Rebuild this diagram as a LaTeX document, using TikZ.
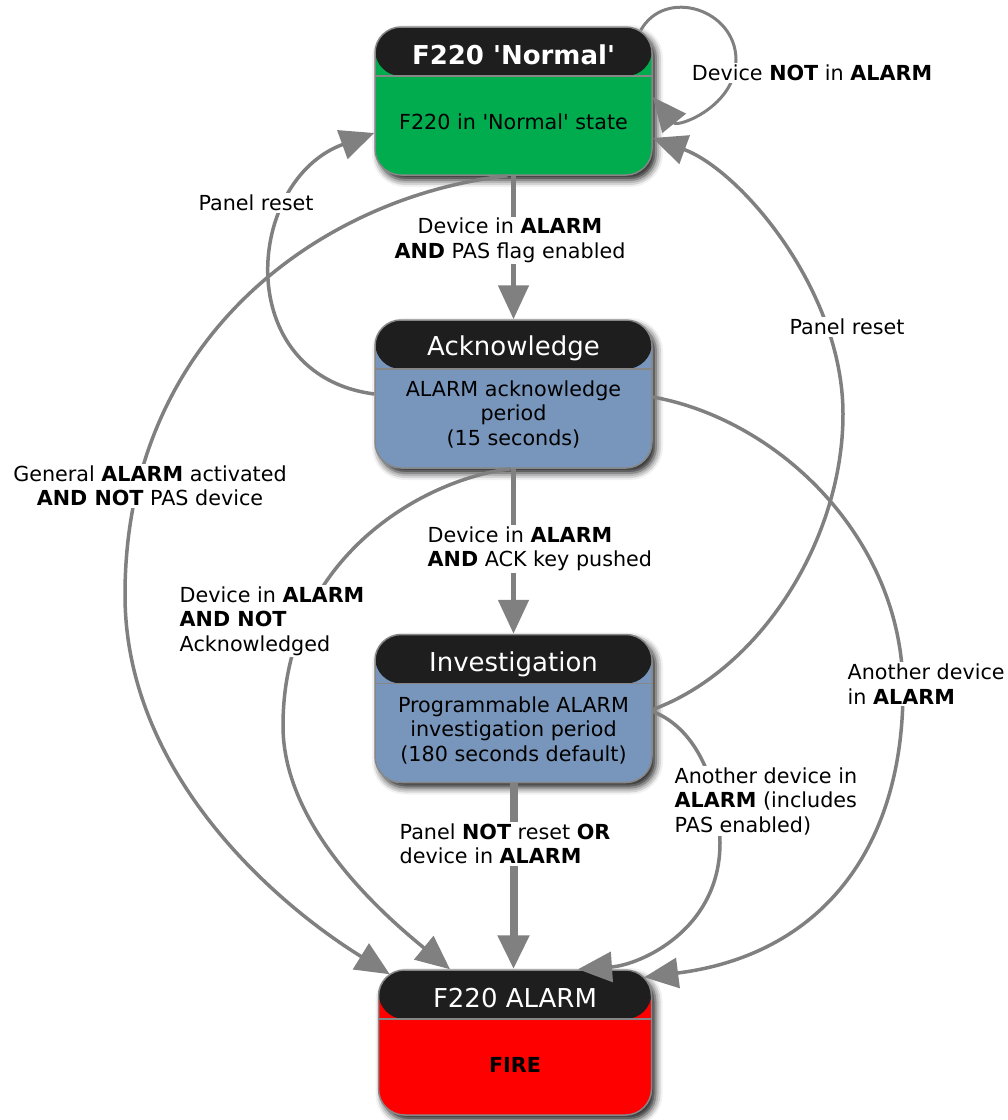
\documentclass[tikz,border=0pt]{standalone}
\usepackage{fontspec}
\setmainfont{DejaVu Sans}
\usetikzlibrary{arrows.meta,shadows.blur}

\definecolor{headblack}{RGB}{30,30,30}
\definecolor{boxrim}{RGB}{135,135,135}
\definecolor{edgegray}{RGB}{128,128,128}
\definecolor{normgreen}{RGB}{0,172,78}
\definecolor{stateblue}{RGB}{120,150,188}
\definecolor{alarmred}{RGB}{255,0,0}

\tikzset{
  statebox/.style={draw=boxrim, line width=1.5pt, rounded corners=26pt,
    minimum width=277pt, minimum height=148pt, inner sep=0pt,
    blur shadow={shadow xshift=4pt, shadow yshift=-5pt,
      shadow blur radius=7pt, shadow opacity=90},
    path picture={
      \fill[headblack] (path picture bounding box.north west)
        rectangle ([yshift=-49pt]path picture bounding box.north east);
      \draw[boxrim, line width=1.5pt]
        ([yshift=-49pt]path picture bounding box.north west)
        -- ([yshift=-49pt]path picture bounding box.north east);}},
  boxtitle/.style={text=white, font=\fontsize{26}{30}\selectfont},
  boxtext/.style={align=center, font=\fontsize{20.7}{24.5}\selectfont},
  edgelabel/.style={fill=white, inner sep=1.5pt,
    font=\fontsize{20.7}{24.5}\selectfont},
  trans/.style={draw=edgegray, line width=3.5pt,
    -{Triangle[length=34pt,width=30pt]}},
}

\begin{document}
\begin{tikzpicture}[x=1pt, y=-1pt]
\useasboundingbox (0,0) rectangle (1008,1120);

% states
\node[statebox, fill=normgreen] (normal) at (513.5,101) {};
\node[boxtitle] (normal-title) at (513.5,55) {\textbf{F220 \textquotesingle Normal\textquotesingle}};
\node[boxtext] (normal-text) at (513.5,122) {F220 in \textquotesingle Normal\textquotesingle\ state};

\node[statebox, fill=stateblue] (ack) at (513.5,394) {};
\node[boxtitle] (ack-title) at (513.5,348) {Acknowledge};
\node[boxtext] (ack-text) at (513.5,414) {ALARM acknowledge\\period\\(15 seconds)};

\node[statebox, fill=stateblue] (inv) at (513.5,708.5) {};
\node[boxtitle] (inv-title) at (513.5,664) {Investigation};
\node[boxtext] (inv-text) at (513.5,730) {Programmable ALARM\\investigation period\\(180 seconds default)};

\node[statebox, fill=alarmred, minimum width=273pt, minimum height=145pt] (alarm) at (515,1042.5) {};
\node[boxtitle] (alarm-title) at (515,998) {F220 ALARM};
\node[boxtext] (alarm-text) at (515,1065) {\textbf{FIRE}};

% main line down
\draw[trans, line width=5pt] (normal.south) -- (ack.north);
\draw[trans, line width=5pt] (ack.south) -- (inv.north);
\draw[trans, line width=8pt] (inv.south) -- (inv.south |- alarm.north);

% back to normal
\draw[trans, line width=3pt] ([shift={(-12pt,-4pt)}]normal.north east)
  .. controls (665,-13) and (736,9) .. (736,60)
  .. controls (736,106) and (678,128) .. ([yshift=4pt]normal.east);
\draw[trans] (ack.west) .. controls (230,375) and (245,180) .. ([yshift=-32pt]normal.west);
\draw[trans] ([yshift=-1pt]inv.east)
  .. controls (760,670) and (843,540) .. (843,414)
  .. controls (843,290) and (740,170) .. ([yshift=-37pt]normal.east);

% straight to alarm
\draw[trans] ([xshift=-6pt]normal.south)
  .. controls (330,195) and (125,330) .. (125,595)
  .. controls (125,770) and (270,900) .. ([shift={(12pt,-5pt)}]alarm.north west);
\draw[trans] ([xshift=-3pt]ack.south)
  .. controls (420,480) and (283,560) .. (283,726)
  .. controls (283,830) and (390,920) .. ([xshift=-65pt]alarm.north);
\draw[trans] ([yshift=-3pt]ack.east)
  .. controls (780,420) and (903,540) .. (903,690)
  .. controls (903,850) and (820,955) .. ([shift={(-8pt,-8pt)}]alarm.north east);
\draw[trans] ([yshift=-3pt]inv.east)
  .. controls (700,730) and (720,790) .. (720,843)
  .. controls (720,930) and (640,965) .. ([xshift=63pt]alarm.north);

% labels
\node[edgelabel, align=center] (pas-label) at (510,240.5) {Device in \textbf{ALARM}\\\textbf{AND} PAS flag enabled};
\node[edgelabel, align=left, anchor=west] (ackkey-label) at (426,549) {Device in \textbf{ALARM}\\\textbf{AND} ACK key pushed};
\node[edgelabel, align=left, anchor=west] (fire-label) at (398,844) {Panel \textbf{NOT} reset \textbf{OR}\\device in \textbf{ALARM}};
\node[edgelabel] (loop-label) at (812,73) {Device \textbf{NOT} in \textbf{ALARM}};
\node[edgelabel] (resetl-label) at (256,203) {Panel reset};
\node[edgelabel] (resetr-label) at (847,327) {Panel reset};
\node[edgelabel, align=center] (general-label) at (150,486) {General \textbf{ALARM} activated\\\textbf{AND NOT} PAS device};
\node[edgelabel, align=left, anchor=west] (notack-label) at (178,621) {Device in \textbf{ALARM}\\\textbf{AND NOT}\\Acknowledged};
\node[edgelabel, align=left, anchor=west] (another-label) at (846,684) {Another device\\in \textbf{ALARM}};
\node[edgelabel, align=left, anchor=west] (pasdev-label) at (673,801) {Another device in\\\textbf{ALARM} (includes\\PAS enabled)};
\end{tikzpicture}
\end{document}
